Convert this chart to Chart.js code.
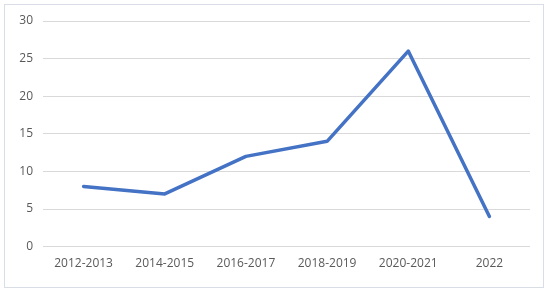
<!DOCTYPE html>
<html>
<head>
<meta charset="utf-8">
<script src="https://cdn.jsdelivr.net/npm/chart.js@4/dist/chart.umd.min.js"></script>
<style>
  body { margin: 0; background: #fff; }
  #frame { position: absolute; left: 4px; top: 4px; width: 538px; height: 282px; border: 1px solid #d9dde6; }
  #wrap { position: absolute; left: 0; top: 0; width: 550px; height: 295px; }
</style>
</head>
<body>
<div id="frame"></div>
<div id="wrap"><canvas id="myChart"></canvas></div>
<script>
// chart data
const periods = ["2012-2013", "2014-2015", "2016-2017", "2018-2019", "2020-2021", "2022"];
const counts = [8, 7, 12, 14, 26, 4];
const yTicks = [0, 5, 10, 15, 20, 25, 30];

const data = {
  labels: periods,
  datasets: [{
    data: counts,
    borderColor: "#4472c4",
    backgroundColor: "#4472c4",
    borderWidth: 3.5,
    pointRadius: 0,
    tension: 0,
    borderJoinStyle: "round",
    borderCapStyle: "round"
  }]
};

const config = {
  type: "line",
  data: data,
  options: {
    responsive: false,
    animation: false,
    layout: { padding: { left: 5, right: 20, top: 21, bottom: 14 } },
    plugins: { legend: { display: false }, tooltip: { enabled: false } },
    scales: {
      x: {
        offset: true,
        grid: { display: false, drawTicks: false },
        border: { display: false },
        ticks: { color: "#595959", font: { family: "Open Sans", size: 12 }, padding: 10, maxRotation: 0 }
      },
      y: {
        min: yTicks[0],
        max: yTicks[yTicks.length - 1],
        afterFit: s => { s.width = 38; },
        afterBuildTicks: s => { s.ticks = yTicks.map(v => ({ value: v })); },
        grid: { color: "#d9d9d9", lineWidth: 1, drawTicks: false },
        border: { display: false },
        ticks: { color: "#595959", font: { family: "Open Sans", size: 12 }, padding: 10 }
      }
    }
  }
};

const canvas = document.getElementById("myChart");
canvas.width = 550;
canvas.height = 295;
const myChart = new Chart(canvas, config);
</script>
</body>
</html>
